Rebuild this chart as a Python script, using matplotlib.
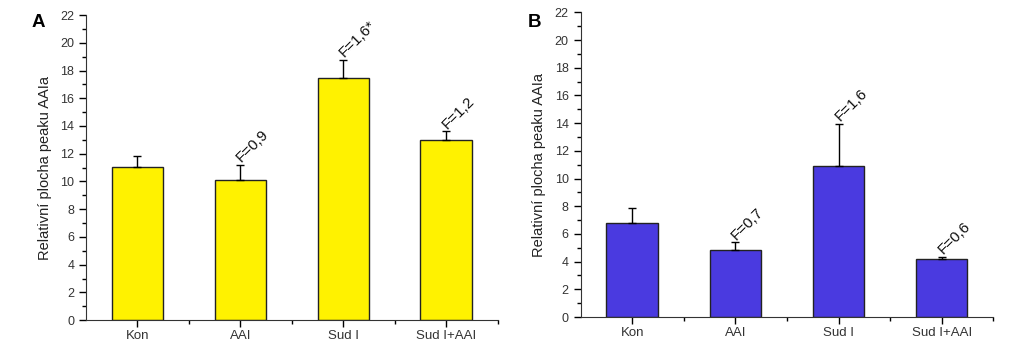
import numpy as np
import matplotlib.pyplot as plt
from matplotlib.ticker import MultipleLocator, FixedLocator

plt.rcParams['font.family'] = ['Liberation Sans', 'DejaVu Sans']

kategorie = ['Kon', 'AAI', 'Sud I', 'Sud I+AAI']

# panel A
hodnoty_a = [11.07, 10.1, 17.45, 13.0]
chyby_a = [0.8, 1.08, 1.3, 0.62]
popisky_a = ['', 'F=0,9', 'F=1,6*', 'F=1,2']

# panel B
hodnoty_b = [6.8, 4.82, 10.9, 4.17]
chyby_b = [1.05, 0.58, 3.03, 0.19]
popisky_b = ['', 'F=0,7', 'F=1,6', 'F=0,6']

fig = plt.figure(figsize=(10.24, 3.42), dpi=100)
ax_a = fig.add_axes([0.084, 0.064, 0.402, 0.892])
ax_b = fig.add_axes([0.567, 0.073, 0.403, 0.891])


def kresli(ax, hodnoty, chyby, popisky, barva):
    x = np.arange(len(kategorie))
    ax.bar(x, hodnoty, width=0.5, color=barva, edgecolor='#222222', linewidth=1.0, zorder=2)
    ax.errorbar(x, hodnoty, yerr=[np.zeros(len(chyby)), chyby], fmt='none',
                ecolor='black', elinewidth=1.0, capsize=3, capthick=1.0, zorder=3)
    for xi, h, e, t in zip(x, hodnoty, chyby, popisky):
        if t:
            ax.annotate(t, (xi, h + e), xytext=(1, 1.5), textcoords='offset points',
                        rotation=45, rotation_mode='anchor', ha='left', va='baseline',
                        fontsize=11, color='#111111')
    ax.set_xlim(-0.5, 3.5)
    ax.set_ylim(0, 22)
    ax.xaxis.set_major_locator(FixedLocator(x))
    ax.xaxis.set_minor_locator(FixedLocator([0.5, 1.5, 2.5, 3.5]))
    ax.set_xticklabels(kategorie, fontsize=9.5)
    ax.yaxis.set_major_locator(MultipleLocator(2))
    ax.yaxis.set_minor_locator(MultipleLocator(1))
    ax.tick_params(axis='both', which='major', direction='out', length=5, width=1,
                   labelsize=9, labelcolor='#333333')
    ax.tick_params(axis='x', which='major', labelsize=9.5, pad=2)
    ax.tick_params(axis='both', which='minor', direction='out', length=3, width=1)
    ax.spines['top'].set_visible(False)
    ax.spines['right'].set_visible(False)
    for s in ['left', 'bottom']:
        ax.spines[s].set_color('#333333')
    ax.set_ylabel('Relativní plocha peaku AAIa', fontsize=10.5, labelpad=6, color='#222222')


kresli(ax_a, hodnoty_a, chyby_a, popisky_a, '#FFF200')
kresli(ax_b, hodnoty_b, chyby_b, popisky_b, '#4A3AE0')

fig.text(0.031, 0.921, 'A', fontsize=13.5, fontweight='bold', va='baseline')
fig.text(0.515, 0.921, 'B', fontsize=13.5, fontweight='bold', va='baseline')

fig.savefig('out.png', dpi=100)
